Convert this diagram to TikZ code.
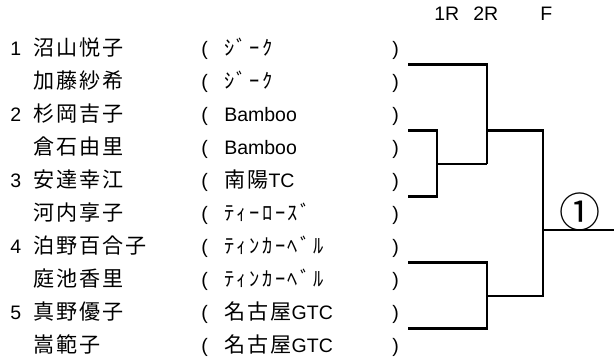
\documentclass[tikz,border=0pt]{standalone}
\usepackage{fontspec}
\setmainfont{Liberation Sans}
\newfontfamily\jp[Scale=1.08, LetterSpace=10]{Noto Sans CJK JP}
\newfontfamily\kana[Scale=1.05, LetterSpace=12]{Noto Sans CJK JP}
\usetikzlibrary{positioning}

\begin{document}
\begin{tikzpicture}[x=1pt, y=-1pt, line width=2.6pt,
	every node/.style={font=\fontsize{19.5}{22}\selectfont, inner sep=0pt, anchor=base west}]
	\useasboundingbox (0,0) rectangle (614,363);
	% Rounds
	\node (h1) at (433,21) {1R};
	\node (h2) at (472,21) {2R};
	\node (h3) at (539,21) {F};
	% Players
	\foreach \num/\name/\team [count=\i] in {
		1/沼山悦子/{\kana ｼﾞｰｸ}, {}/加藤紗希/{\kana ｼﾞｰｸ},
		2/杉岡吉子/Bamboo, {}/倉石由里/Bamboo,
		3/安達幸江/{{\jp 南陽}TC}, {}/河内享子/{\kana ﾃｨｰﾛｰｽﾞ},
		4/泊野百合子/{\kana ﾃｨﾝｶｰﾍﾞﾙ}, {}/庭池香里/{\kana ﾃｨﾝｶｰﾍﾞﾙ},
		5/真野優子/{{\jp 名古屋}GTC}, {}/嵩範子/{{\jp 名古屋}GTC}} {
		\node (num\i) at (9,{56+33*(\i-1)}) {\num};
		\node (name\i) at (32,{56+33*(\i-1)}) {\jp\name};
		\node (open\i) at (200,{56+33*(\i-1)}) {(};
		\node (team\i) at (223,{56+33*(\i-1)}) {\team};
		\node (close\i) at (391,{56+33*(\i-1)}) {)};
	}
	% Bracket
	\foreach \g in {1,3,5,7,9}
		\coordinate (g\g) at (408,{31.5+33*\g});
	\coordinate (q1) at (437,164);
	\coordinate (s1) at (487,164);
	\coordinate (s2) at (487,296);
	\coordinate (f1) at (543,230);
	\coordinate (win) at (614,230);
	\draw (g3) -| (q1) |- (g5);
	\draw (q1) -- (s1);
	\draw (g1) -| (s1);
	\draw (g7) -| (s2) |- (g9);
	\draw (g3 -| s1) -| (f1);
	\draw (s2) -| (f1);
	\draw (f1) -- (win);
	\node[anchor=center, font=\fontsize{38}{40}\selectfont] (champ) at (580,212) {\jp ①};
\end{tikzpicture}
\end{document}
